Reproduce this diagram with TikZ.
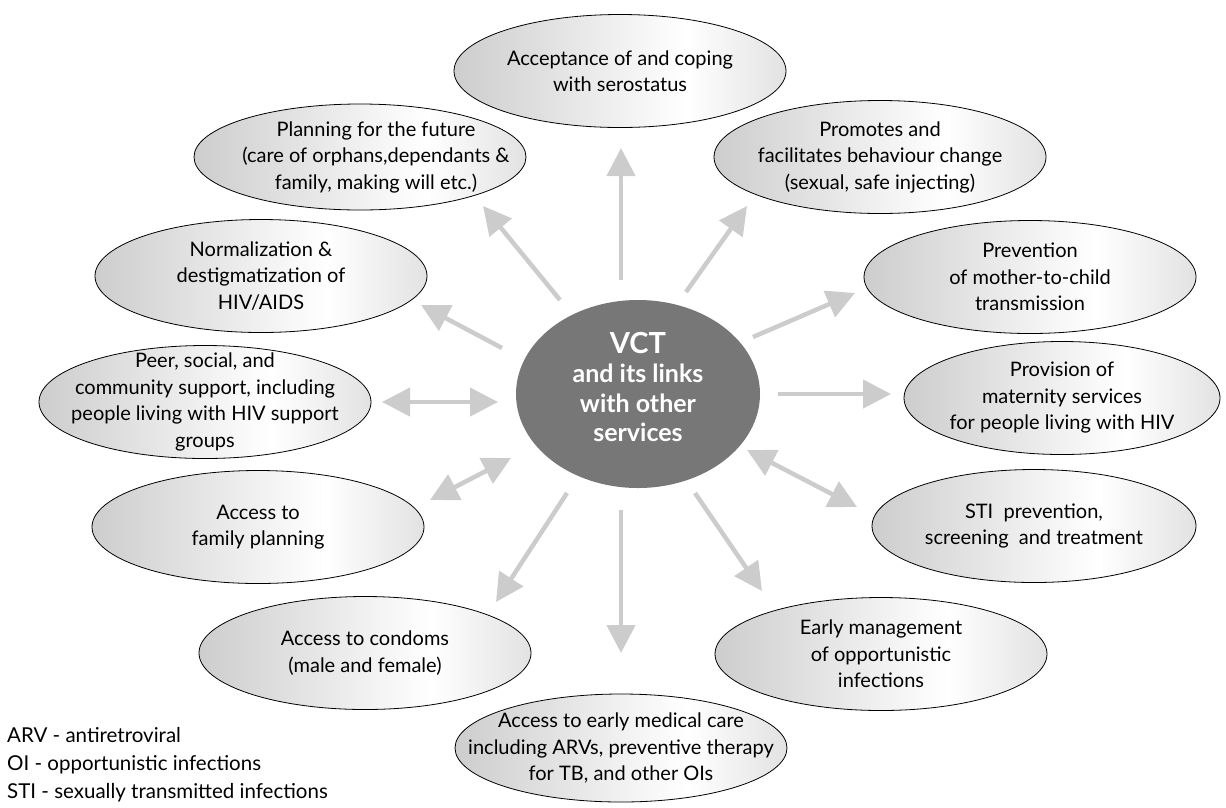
\documentclass[tikz,border=0pt]{standalone}
\usepackage{fontspec}
\setmainfont{Lato}
\usetikzlibrary{shapes.geometric,arrows.meta}
\definecolor{arrowgray}{HTML}{CCCCCC}
\definecolor{ellL}{HTML}{CDCDCD}
\definecolor{ellR}{HTML}{E2E2E2}
\definecolor{hubgray}{HTML}{777777}
\pgfdeclarehorizontalshading{ellsh}{100bp}{color(0bp)=(ellL); color(25bp)=(ellL); color(60bp)=(white); color(75bp)=(ellR); color(100bp)=(ellR)}
\tikzset{
  ell/.style={ellipse, draw=black, line width=0.8pt, shading=ellsh, inner sep=0pt,
    minimum width=332pt, minimum height=113pt},
  txt/.style={align=center, inner sep=0pt, text=black, font=\fontsize{20}{26.5}\selectfont},
  hub/.style={ellipse, fill=hubgray, inner sep=0pt},
  hubtxt/.style={align=center, inner sep=0pt, text=white, font=\bfseries\fontsize{25}{29.5}\selectfont},
  arr/.style={draw=arrowgray, line width=4.5pt, -{Triangle[length=28pt,width=28pt]}},
  darr/.style={draw=arrowgray, line width=4.5pt, {Triangle[length=28pt,width=28pt]}-{Triangle[length=28pt,width=28pt]}},
  legend/.style={align=left, inner sep=0pt, anchor=north west, font=\fontsize{20.5}{28}\selectfont}
}
\begin{document}
\begin{tikzpicture}[x=1pt,y=-1pt]
\useasboundingbox (0,0) rectangle (1226,807);

% hub
\node[hub, minimum width=244pt, minimum height=188pt,
  label={[hubtxt, yshift=7pt]center:{{\fontsize{29}{32}\selectfont VCT}\\and its links\\with other\\services}}] (vct) at (638,394) {};

% surrounding services
\node[ell, label={[txt]center:{Acceptance of and coping\\with serostatus}}] (acc) at (620,71) {};
\node[ell, label={[txt]center:{Promotes and\\facilitates behaviour change\\(sexual, safe injecting)}}] (pro) at (880,157) {};
\node[ell, label={[txt]center:{Prevention\\of mother-to-child\\transmission}}] (pmt) at (1030,277) {};
\node[ell, minimum width=316pt, label={[txt]center:{Provision of\\maternity services\\for people living with HIV}}] (mat) at (1062,398) {};
\node[ell, minimum width=324pt, label={[txt]center:{STI~ prevention,\\screening~ and treatment}}] (sti) at (1034,526) {};
\node[ell, label={[txt]center:{Early management\\of opportunistic\\infections}}] (oi) at (881,654) {};
\node[ell, minimum height=108pt, label={[txt]center:{Access to early medical care\\including ARVs, preventive therapy\\for TB, and other OIs}}] (med) at (621,748) {};
\node[ell, label={[txt]center:{Access to condoms\\(male and female)}}] (con) at (365,653) {};
\node[ell, label={[txt]center:{Access to\\family planning}}] (fp) at (258,527) {};
\node[ell, label={[txt]center:{Peer, social, and\\community support, including\\people living with HIV support\\groups}}] (peer) at (205,402) {};
\node[ell, label={[txt]center:{Normalization \&\\destigmatization of\\HIV/AIDS}}] (nor) at (261,276) {};
\node[ell, minimum height=106pt, label={[txt, xshift=16pt]center:{Planning for the future\\(care of orphans,dependants \&\\family, making will etc.)}}] (plan) at (360,157) {};

% arrow end points
\coordinate (t1) at (621,280); \coordinate (h1) at (621,148);
\coordinate (t2) at (686,292); \coordinate (h2) at (747,206);
\coordinate (t3) at (753,337); \coordinate (h3) at (855,293);
\coordinate (t4) at (778,394); \coordinate (h4) at (891,394);
\coordinate (t5) at (747,450); \coordinate (h5) at (857,507);
\coordinate (t6) at (695,493); \coordinate (h6) at (762,591);
\coordinate (t7) at (621,510); \coordinate (h7) at (621,653);
\coordinate (t8) at (567,493); \coordinate (h8) at (496,602);
\coordinate (t9) at (511,458); \coordinate (h9) at (430,500);
\coordinate (t10) at (498,402); \coordinate (h10) at (382,402);
\coordinate (t11) at (502,348); \coordinate (h11) at (421,305);
\coordinate (t12) at (560,300); \coordinate (h12) at (483,206);

\draw[arr] (t1) -- (h1);
\draw[arr] (t2) -- (h2);
\draw[arr] (t3) -- (h3);
\draw[arr] (t4) -- (h4);
\draw[darr] (t5) -- (h5);
\draw[arr] (t6) -- (h6);
\draw[arr] (t7) -- (h7);
\draw[arr] (t8) -- (h8);
\draw[darr] (t9) -- (h9);
\draw[darr] (t10) -- (h10);
\draw[arr] (t11) -- (h11);
\draw[arr] (t12) -- (h12);

% legend
\node[legend] (leg) at (7,727) {ARV - antiretroviral\\OI - opportunistic infections\\STI - sexually transmitted infections};
\end{tikzpicture}
\end{document}
